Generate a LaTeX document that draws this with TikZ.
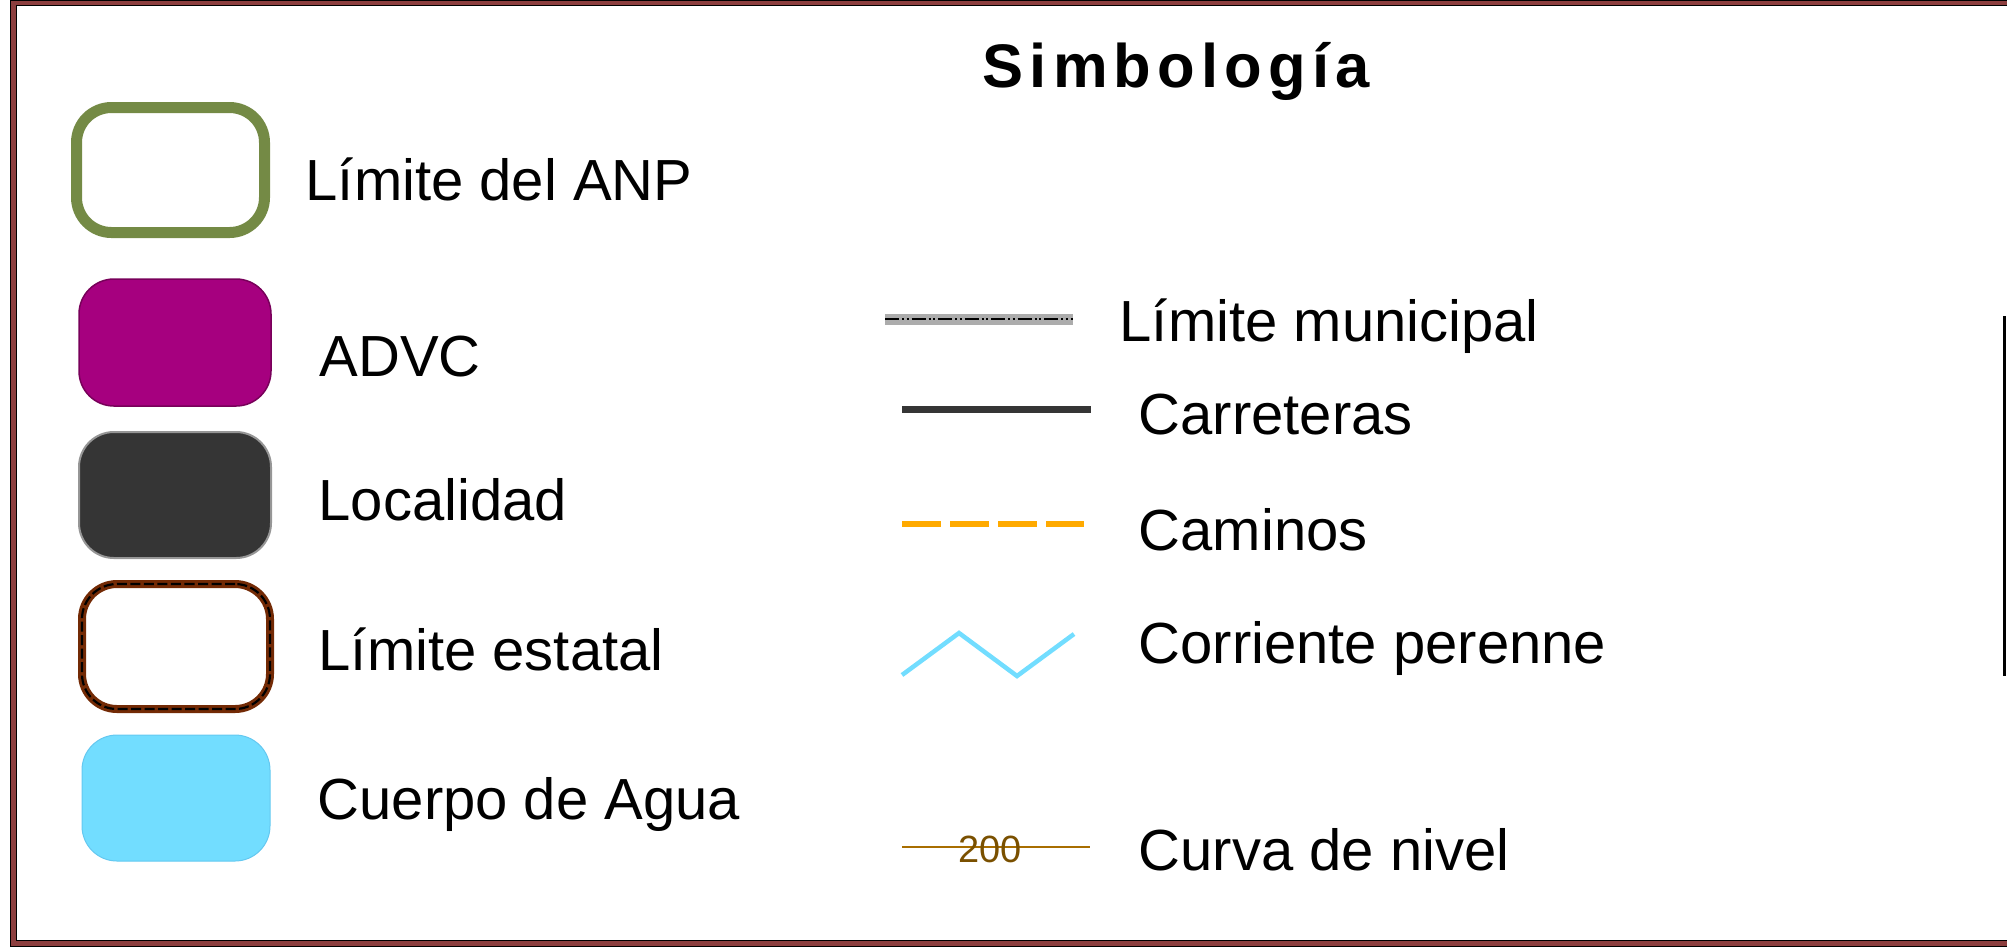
\documentclass[tikz,border=0pt]{standalone}
\usepackage{fontspec}
\setmainfont{Liberation Sans}
\newfontfamily\titlefont[LetterSpace=10]{Liberation Sans}
\usetikzlibrary{positioning,calc}
\definecolor{framered}{RGB}{140,62,62}
\definecolor{anpgreen}{RGB}{116,138,69}
\definecolor{advcpurple}{RGB}{166,0,127}
\definecolor{locgrey}{RGB}{53,53,53}
\definecolor{statebrown}{RGB}{115,42,5}
\definecolor{waterblue}{RGB}{114,221,255}
\definecolor{roadorange}{RGB}{255,170,0}
\definecolor{contourbrown}{RGB}{168,110,0}
\definecolor{contourtext}{RGB}{122,80,0}
\tikzset{
    symbol/.style = {
        shape=rectangle,
        inner sep=0pt,
        minimum width=1.9cm,
        minimum height=1.26cm,
        rounded corners=0.35cm
    },
    legend/.style = {
        anchor=base west,
        inner sep=0pt,
        font=\fontsize{16.5}{19}\selectfont
    },
    title/.style = {
        anchor=base west,
        inner sep=0pt,
        font=\titlefont\bfseries\fontsize{17.5}{20}\selectfont
    },
}
\begin{document}
\begin{tikzpicture}
            \useasboundingbox (0,0) rectangle (20.07,-9.46);

            % marco
            \path[draw, black, line width=0.07cm] (20.2,-0.028) -| (0.135,-9.435) -- (20.2,-9.435);
            \path[draw, framered, line width=0.045cm] (20.2,-0.028) -| (0.135,-9.435) -- (20.2,-9.435);
            \path[draw, black, line width=0.03cm] (20.04,-3.16) -- (20.04,-6.76);

            \node[title] (titulo) at (9.82,-0.87) {Simbología};

            % simbolos de area
            \node[symbol, draw=anpgreen, line width=0.11cm, minimum width=1.88cm, minimum height=1.25cm] (anp) at (1.705,-1.70) {};
            \node[symbol, draw={rgb,255:red,120;green,0;blue,90}, fill=advcpurple, line width=0.015cm, minimum width=1.92cm, minimum height=1.27cm] (advc) at (1.75,-3.425) {};
            \node[symbol, draw={rgb,255:red,150;green,150;blue,150}, fill=locgrey, line width=0.02cm, minimum width=1.92cm] (localidad) at (1.75,-4.95) {};
            \node[symbol, draw=statebrown, line width=0.08cm, minimum width=1.88cm, minimum height=1.25cm] (estatal) at (1.76,-6.465) {};
            \node[symbol, draw=black, line width=0.022cm, dash pattern=on 0.1cm off 0.035cm, minimum width=1.88cm, minimum height=1.25cm] (estatal-dash) at (estatal.center) {};
            \node[symbol, draw={rgb,255:red,100;green,200;blue,240}, fill=waterblue, line width=0.01cm, minimum width=1.88cm] (agua) at (1.76,-7.98) {};

            \node[legend] (anp-text) at (3.05,-2.00) {Límite del ANP};
            \node[legend] (advc-text) at (3.19,-3.76) {ADVC};
            \node[legend] (localidad-text) at (3.18,-5.20) {Localidad};
            \node[legend] (estatal-text) at (3.18,-6.70) {Límite estatal};
            \node[legend] (agua-text) at (3.17,-8.19) {Cuerpo de Agua};

            % simbolos de linea
            \coordinate (mun-a) at (8.85,-3.19);
            \coordinate (mun-b) at (10.73,-3.19);
            \path[draw, gray!65, line width=0.11cm] (mun-a) -- (mun-b);
            \path[draw, black, line width=0.028cm, dash pattern=on 0.14cm off 0.03cm on 0.02cm off 0.025cm on 0.02cm off 0.03cm] (mun-a) -- (mun-b);

            \coordinate (car-a) at (9.02,-4.09);
            \coordinate (car-b) at (10.91,-4.09);
            \path[draw, locgrey, line width=0.07cm] (car-a) -- (car-b);

            \coordinate (cam-a) at (9.02,-5.24);
            \coordinate (cam-b) at (10.84,-5.24);
            \path[draw, roadorange, line width=0.06cm, dash pattern=on 0.39cm off 0.09cm] (cam-a) -- (cam-b);

            \coordinate (cor-a) at (9.02,-6.75);
            \coordinate (cor-b) at (10.74,-6.34);
            \path[draw, waterblue, line width=0.045cm] (cor-a) -- (9.59,-6.33) -- (10.17,-6.76) -- (cor-b);

            \coordinate (cur-a) at (9.02,-8.47);
            \coordinate (cur-b) at (10.90,-8.47);
            \path[draw, contourbrown, line width=0.018cm] (cur-a) -- (cur-b);
            \node[inner sep=0pt, text=contourtext, font=\fontsize{10.8}{12}\selectfont] (cota) at (9.90,-8.49) {200};

            \node[legend] (municipal-text) at (11.19,-3.41) {Límite municipal};
            \node[legend] (carreteras-text) at (11.38,-4.34) {Carreteras};
            \node[legend] (caminos-text) at (11.38,-5.50) {Caminos};
            \node[legend] (corriente-text) at (11.38,-6.63) {Corriente perenne};
            \node[legend] (curva-text) at (11.38,-8.70) {Curva de nivel};

        \end{tikzpicture}
\end{document}
